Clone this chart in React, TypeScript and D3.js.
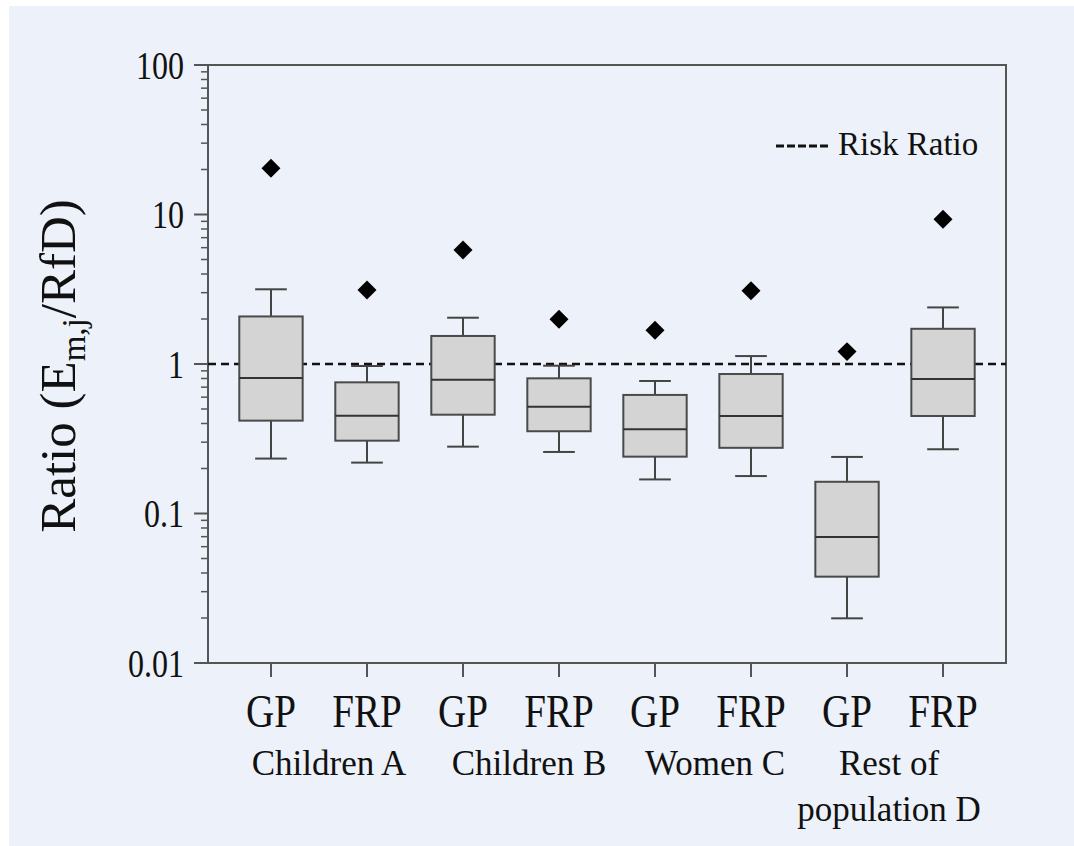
import React, { useEffect, useRef } from "react";
import * as d3 from "d3";

const categories = ["GP", "FRP", "GP", "FRP", "GP", "FRP", "GP", "FRP"];
const groups = [["Children A"], ["Children B"], ["Women C"], ["Rest of", "population D"]];
const whiskerLow = [0.233, 0.219, 0.28, 0.258, 0.169, 0.178, 0.0199, 0.269];
const q1 = [0.418, 0.307, 0.458, 0.355, 0.24, 0.275, 0.0378, 0.449];
const median = [0.806, 0.451, 0.785, 0.518, 0.366, 0.449, 0.0696, 0.794];
const q3 = [2.08, 0.754, 1.54, 0.802, 0.621, 0.857, 0.163, 1.72];
const whiskerHigh = [3.16, 0.97, 2.04, 0.974, 0.77, 1.13, 0.239, 2.39];
const outliers = [20.4, 3.13, 5.79, 1.99, 1.68, 3.09, 1.21, 9.29];
const majorTicks = [0.01, 0.1, 1, 10, 100];
const tickLabels = ["0.01", "0.1", "1", "10", "100"];
const riskRatio = 1;

const App = () => {
  const ref = useRef<SVGSVGElement>(null);

  useEffect(() => {
    const svg = d3.select(ref.current);
    svg.selectAll("*").remove();

    const width = 1074;
    const height = 846;
    const left = 208, right = 1006, top = 65, bottom = 663;
    const serif = "'Liberation Serif', 'Times New Roman', serif";
    const axisColor = "#555";

    svg.attr("width", width).attr("height", height);

    // background panel
    svg.append("rect").attr("x", 9).attr("y", 6).attr("width", width - 9).attr("height", height - 6)
      .attr("fill", "#edf1f9");

    const idx = categories.map((_, i) => i);
    const x = d3.scalePoint<number>().domain(idx).range([left, right]).padding(0.656);
    const y = d3.scaleLog().domain([0.01, 100]).range([bottom, top]);
    const step = x.step();

    // frame
    svg.append("rect").attr("x", left).attr("y", top).attr("width", right - left).attr("height", bottom - top)
      .attr("fill", "none").attr("stroke", axisColor).attr("stroke-width", 2);

    // y minor ticks
    const minor: number[] = [];
    [0.01, 0.1, 1, 10].forEach((d) => {
      for (let k = 2; k <= 9; k++) minor.push(d * k);
    });
    svg.append("g").selectAll("line").data(minor).enter().append("line")
      .attr("x1", left - 7).attr("x2", left).attr("y1", (d) => y(d)).attr("y2", (d) => y(d))
      .attr("stroke", axisColor).attr("stroke-width", 1.5);
    svg.append("g").selectAll("line").data(majorTicks).enter().append("line")
      .attr("x1", left - 14).attr("x2", left).attr("y1", (d) => y(d)).attr("y2", (d) => y(d))
      .attr("stroke", axisColor).attr("stroke-width", 2);
    svg.append("g").selectAll("text").data(majorTicks).enter().append("text")
      .attr("transform", (d) => `translate(184,${y(d) + 13.5}) scale(0.8,1)`)
      .attr("text-anchor", "end").attr("font-family", serif).attr("font-size", 40).attr("fill", "#111")
      .text((_, i) => tickLabels[i]);

    // x ticks
    svg.append("g").selectAll("line").data(idx).enter().append("line")
      .attr("x1", (d) => x(d)!).attr("x2", (d) => x(d)!).attr("y1", bottom).attr("y2", bottom + 14)
      .attr("stroke", axisColor).attr("stroke-width", 2);
    svg.append("g").selectAll("text").data(idx).enter().append("text")
      .attr("transform", (d) => `translate(${x(d)},727) scale(0.85,1)`)
      .attr("text-anchor", "middle").attr("font-family", serif).attr("font-size", 46).attr("fill", "#111")
      .text((d) => categories[d]);

    // group labels
    const nudge = [10, 18, 12, -6];
    groups.forEach((lines, g) => {
      const cx = (x(g * 2)! + x(g * 2 + 1)!) / 2 + nudge[g];
      lines.forEach((t, j) => {
        svg.append("text").attr("x", cx).attr("y", 775 + j * 46).attr("text-anchor", "middle")
          .attr("font-family", serif).attr("font-size", 35).attr("fill", "#111").text(t);
      });
    });

    // y axis title
    const title = svg.append("text").attr("transform", "translate(75,366) rotate(-90)")
      .attr("text-anchor", "middle").attr("font-family", serif).attr("font-size", 51).attr("fill", "#111");
    title.append("tspan").text("Ratio (E");
    title.append("tspan").attr("font-size", 33).attr("dy", 10).text("m,j");
    title.append("tspan").attr("dy", -10).text("/RfD)");

    // risk ratio line
    svg.append("line").attr("x1", left).attr("x2", right).attr("y1", y(riskRatio)).attr("y2", y(riskRatio))
      .attr("stroke", "#111").attr("stroke-width", 2.5).attr("stroke-dasharray", "8,5");

    // boxes
    const bw = step * 0.66;
    const cw = step * 0.33;
    const boxG = svg.append("g").selectAll("g").data(idx).enter().append("g");
    boxG.append("line").attr("x1", (d) => x(d)!).attr("x2", (d) => x(d)!)
      .attr("y1", (d) => y(whiskerHigh[d])).attr("y2", (d) => y(whiskerLow[d]))
      .attr("stroke", "#444").attr("stroke-width", 2);
    [whiskerHigh, whiskerLow].forEach((arr) => {
      boxG.append("line").attr("x1", (d) => x(d)! - cw / 2).attr("x2", (d) => x(d)! + cw / 2)
        .attr("y1", (d) => y(arr[d])).attr("y2", (d) => y(arr[d]))
        .attr("stroke", "#444").attr("stroke-width", 2);
    });
    boxG.append("rect").attr("x", (d) => x(d)! - bw / 2).attr("width", bw)
      .attr("y", (d) => y(q3[d])).attr("height", (d) => y(q1[d]) - y(q3[d]))
      .attr("fill", "#d4d4d4").attr("stroke", "#4a4a4a").attr("stroke-width", 2);
    boxG.append("line").attr("x1", (d) => x(d)! - bw / 2).attr("x2", (d) => x(d)! + bw / 2)
      .attr("y1", (d) => y(median[d])).attr("y2", (d) => y(median[d]))
      .attr("stroke", "#333").attr("stroke-width", 2);

    // outliers (diamonds)
    svg.append("g").selectAll("path").data(idx).enter().append("path")
      .attr("d", d3.symbol(d3.symbolSquare, 180)() as string)
      .attr("transform", (d) => `translate(${x(d)},${y(outliers[d])}) rotate(45)`)
      .attr("fill", "#000");

    // legend
    svg.append("line").attr("x1", 776).attr("x2", 828).attr("y1", 146).attr("y2", 146)
      .attr("stroke", "#111").attr("stroke-width", 3).attr("stroke-dasharray", "8,3");
    svg.append("text").attr("x", 838).attr("y", 155).attr("font-family", serif).attr("font-size", 33)
      .attr("fill", "#111").text("Risk Ratio");
  }, []);

  return <svg ref={ref} style={{ position: "absolute", left: 0, top: 0 }}></svg>;
};

export default App;
